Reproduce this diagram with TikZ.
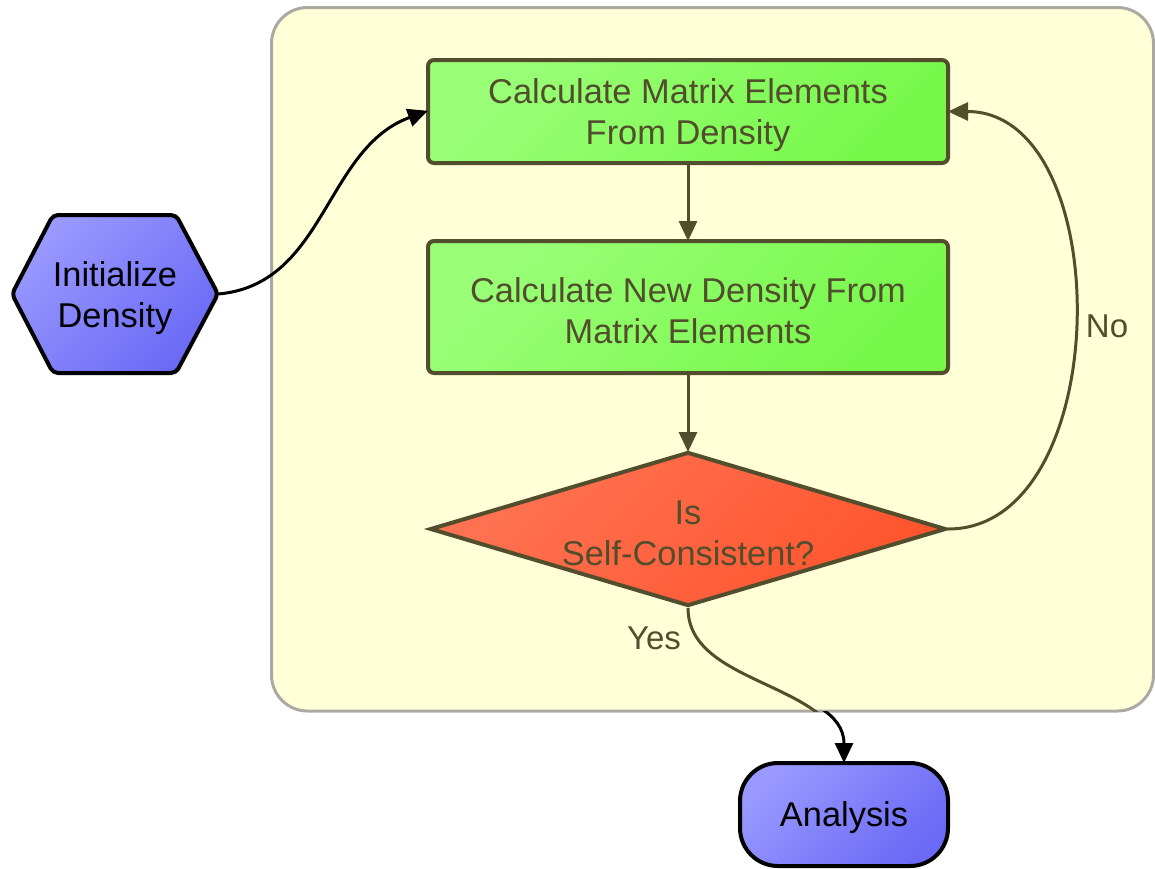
\documentclass[tikz,border=0pt]{standalone}
\usepackage{fontspec}
\setmainfont{Liberation Sans}
\usetikzlibrary{arrows.meta,shapes.geometric,calc}
\definecolor{edgeol}{HTML}{524D2D}
\definecolor{clfill}{HTML}{FFFFD8}
\definecolor{clline}{HTML}{AAAAA2}
\definecolor{grnA}{HTML}{99FF77}
\definecolor{grnB}{HTML}{78F84B}
\definecolor{bluA}{HTML}{9999FF}
\definecolor{bluB}{HTML}{6A6AF6}
\definecolor{redA}{HTML}{FF7352}
\definecolor{redB}{HTML}{FF552E}
\begin{document}
\begin{tikzpicture}[x=1pt,y=1pt,
  txt/.style={font=\fontsize{34.4}{41}\selectfont, align=center, inner sep=0pt},
  lbl/.style={font=\fontsize{33}{40}\selectfont, text=edgeol, inner sep=0pt},
  procbox/.style={draw=edgeol, line width=4pt, rounded corners=6pt,
    minimum width=520pt, minimum height=103pt, top color=grnA, bottom color=grnB, shading angle=45},
  decision/.style={diamond, draw=edgeol, line width=4pt, aspect=3.35, minimum width=516pt,
    minimum height=154pt, inner sep=0pt, top color=redA, bottom color=redB, shading angle=45},
  hexfill/.style={draw=black, line width=4pt, rounded corners=5pt, top color=bluA, bottom color=bluB, shading angle=45},
  term/.style={draw=black, line width=4pt, rounded corners=38pt,
    minimum width=208pt, minimum height=103pt, top color=bluA, bottom color=bluB, shading angle=45},
  oltxt/.style={txt, text=edgeol},
  bktxt/.style={txt, text=black},
  olvedge/.style={draw=edgeol, line width=3pt, shorten >=-2pt, -{Triangle[length=20pt,width=18pt]}},
  blkedge/.style={draw=black, line width=3pt, shorten >=-2pt, -{Triangle[length=20pt,width=18pt]}},
]
\useasboundingbox (0,0) rectangle (1155,-868);
% cluster
\draw[line width=3pt, draw=clline, fill=clfill, rounded corners=36pt] (271.5,-7.5) rectangle (1153.5,-711);
% hexagon
\coordinate (hexc) at (115,-294);
\path[hexfill] ($(hexc)+(-103,0)$) -- ($(hexc)+(-62,79)$) -- ($(hexc)+(61,79)$) -- ($(hexc)+(103,0)$)
  -- ($(hexc)+(61,-79)$) -- ($(hexc)+(-62,-79)$) -- cycle;
\node[minimum width=206pt, minimum height=158pt, inner sep=0pt] (init) at (hexc) {};
\node[bktxt] (inittxt) at (115,-298) {Initialize\\Density};
% process boxes
\node[procbox] (calcM) at (688,-111.5) {};
\node[oltxt] (calcMtxt) at (688,-115.5) {Calculate Matrix Elements\\From Density};
\node[procbox, minimum height=132pt] (calcD) at (688,-307) {};
\node[oltxt] (calcDtxt) at (688,-310.5) {Calculate New Density From\\Matrix Elements};
% decision
\node[decision] (check) at (688,-529) {};
\node[oltxt] (checktxt) at (688,-533) {Is\\Self-Consistent?};
% terminal
\node[term] (ana) at (844,-814.5) {};
\node[bktxt] (anatxt) at (844,-818) {Analysis};
% edges
\draw[blkedge] (init.east) to[out=5,in=200] (calcM.west);
\draw[olvedge] (calcM.south) -- (calcD.north);
\draw[olvedge] (calcD.south) -- (check.north);
\draw[olvedge] (check.east) to[out=0,in=0,distance=168pt] (calcM.east);
\node[lbl] (nolbl) at (1107,-326) {No};
\begin{scope}
  \clip (0,0) rectangle (1155,-711);
  \draw[draw=edgeol, line width=3pt] (check.south) to[out=-90,in=90,distance=80pt] (ana.north);
\end{scope}
\begin{scope}
  \clip (0,-711) rectangle (1155,-868);
  \draw[blkedge] (check.south) to[out=-90,in=90,distance=80pt] (ana.north);
\end{scope}
\node[lbl] (yeslbl) at (654,-638) {Yes};
\end{tikzpicture}
\end{document}
